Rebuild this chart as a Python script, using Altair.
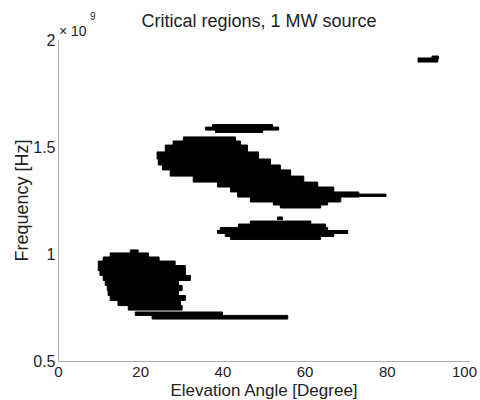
import altair as alt
import pandas as pd

# Critical regions: each region is a stack of horizontal rows.
# *_edges: row boundaries in frequency (x 1e9 Hz), top to bottom (n+1 values)
# *_start / *_end: elevation angle span of each row (degrees)
big_edges = [1.547, 1.528, 1.509, 1.477, 1.444, 1.416, 1.393, 1.364, 1.336, 1.313, 1.290, 1.266, 1.243, 1.229, 1.215]
big_start = [30.5, 28.0, 26.1, 24.1, 24.4, 25.4, 27.3, 32.9, 38.8, 42.0, 43.7, 46.8, 52.4, 54.1]
big_end = [43.2, 44.4, 46.1, 48.8, 51.7, 54.1, 56.6, 59.8, 63.2, 67.1, 73.2, 68.8, 65.6, 63.9]

tail_edges = [1.280, 1.269]
tail_start = [73.0]
tail_end = [79.8]

mid_edges = [1.154, 1.140, 1.124, 1.110, 1.096, 1.082, 1.068]
mid_start = [46.8, 43.9, 39.5, 38.8, 40.7, 42.0]
mid_end = [61.5, 65.1, 65.6, 70.5, 67.1, 63.9]

dot_edges = [1.173, 1.161]
dot_start = [53.4]
dot_end = [54.6]

low_edges = [1.019, 1.005, 0.986, 0.967, 0.946, 0.923, 0.900, 0.876, 0.853, 0.829, 0.806, 0.783, 0.759, 0.738]
low_start = [17.6, 12.7, 11.0, 9.8, 9.8, 10.2, 11.0, 11.5, 12.0, 12.2, 12.7, 14.6, 17.1]
low_end = [19.5, 22.0, 24.6, 28.5, 31.0, 31.0, 32.2, 29.3, 30.2, 29.3, 31.0, 29.8, 30.2]

thin_edges = [0.729, 0.713, 0.696]
thin_start = [18.8, 22.9]
thin_end = [40.0, 55.9]

top_edges = [1.605, 1.593, 1.579, 1.568]
top_start = [37.6, 35.9, 38.3]
top_end = [52.2, 53.7, 49.8]

dash_edges = [1.916, 1.897]
dash_start = [87.6]
dash_end = [92.4]

hook_edges = [1.925, 1.911]
hook_start = [91.0]
hook_end = [92.6]

regions = [
    (big_edges, big_start, big_end),
    (tail_edges, tail_start, tail_end),
    (mid_edges, mid_start, mid_end),
    (dot_edges, dot_start, dot_end),
    (low_edges, low_start, low_end),
    (thin_edges, thin_start, thin_end),
    (top_edges, top_start, top_end),
    (dash_edges, dash_start, dash_end),
    (hook_edges, hook_start, hook_end),
]

rows = []
for edges, starts, ends in regions:
    for i in range(len(starts)):
        rows.append({
            "f_hi": edges[i] * 1e9,
            "f_lo": edges[i + 1] * 1e9,
            "a0": starts[i],
            "a1": ends[i],
        })
df = pd.DataFrame(rows)

x_ticks = [0, 20, 40, 60, 80, 100]
y_ticks = [0.5e9, 1.0e9, 1.5e9, 2.0e9]

TITLE = "Critical regions, 1 MW source"
FONT = "Liberation Sans"
INK = "#222222"

blobs = alt.Chart(df).mark_rect(color="black", stroke="black", strokeWidth=1).encode(
    x=alt.X("a0:Q",
            scale=alt.Scale(domain=[0, 100], nice=False, zero=False),
            axis=alt.Axis(values=x_ticks, title="Elevation Angle [Degree]",
                          ticks=False, grid=False, labelPadding=3,
                          labelOffset={"condition": {"test": "datum.value === 100", "value": -5}, "value": 0},
                          labelFlush=False, labelFont=FONT, titleFont=FONT,
                          labelFontSize=15, titleFontSize=17,
                          titleBaseline="alphabetic", titleY=34)),
    x2="a1:Q",
    y=alt.Y("f_hi:Q",
            scale=alt.Scale(domain=[0.5e9, 2.0e9], nice=False, zero=False),
            axis=alt.Axis(values=y_ticks, title="Frequency [Hz]",
                          labelExpr="format(datum.value / 1e9, '~g')",
                          ticks=False, grid=False, labelPadding=3,
                          labelFlush=False, labelFont=FONT, titleFont=FONT,
                          labelFontSize=16, titleFontSize=18,
                          titleBaseline="alphabetic", titleX=-31, titleY=160)),
    y2="f_lo:Q",
)

anno = alt.Data(values=[{}])
title = alt.Chart(anno).mark_text(
    text=TITLE, align="center", baseline="alphabetic", fontSize=18,
    font=FONT, color=INK
).encode(x=alt.value(201), y=alt.value(-13))
times = alt.Chart(anno).mark_text(
    text="× 10", align="left", baseline="alphabetic", fontSize=14,
    font=FONT, color=INK
).encode(x=alt.value(1), y=alt.value(-4))
exp9 = alt.Chart(anno).mark_text(
    text="9", align="left", baseline="alphabetic", fontSize=10,
    font=FONT, color=INK
).encode(x=alt.value(32), y=alt.value(-20))

chart = alt.layer(blobs, title, times, exp9).properties(
    width=411,
    height=321,
    autosize=alt.AutoSizeParams(type="none"),
    padding={"left": 58, "top": 40, "right": 11, "bottom": 39},
).configure(font=FONT).configure_view(stroke=None).configure_axis(
    domainColor="#aaaaaa",
    labelColor=INK,
    titleFontWeight="normal",
    titleColor=INK,
)

chart.save("out.html", embed_options={"renderer": "svg", "actions": False})
